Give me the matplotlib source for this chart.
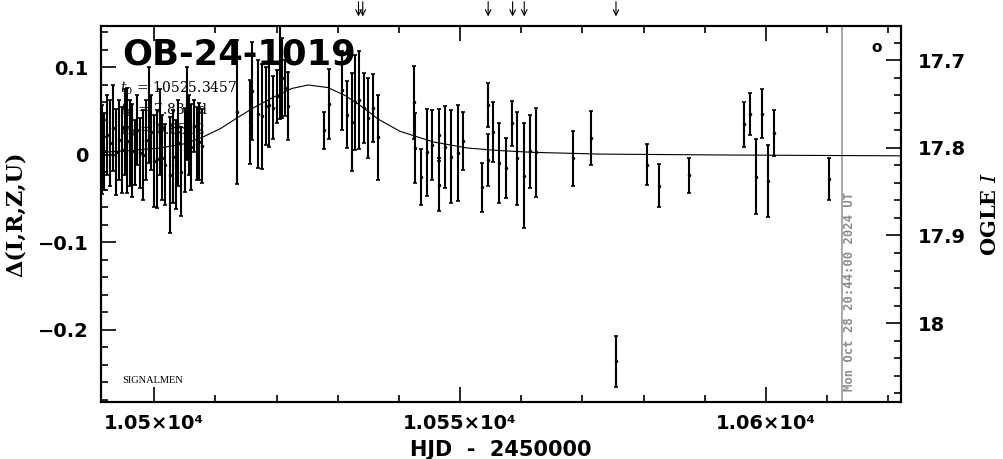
import matplotlib
matplotlib.use("Agg")
import matplotlib.pyplot as plt
from matplotlib.ticker import MultipleLocator, FuncFormatter

# ---- data ----
# OGLE points: HJD-2450000, delta flux, error
t_obs = [10491.5, 10491.8, 10492.3, 10492.8, 10493.3, 10493.8, 10494.3, 10494.8,
         10495.3, 10495.6, 10496.1, 10496.4, 10496.9, 10497.2, 10497.7, 10498.2,
         10498.7, 10499.2, 10499.5, 10500.0, 10500.5, 10501.0, 10501.3, 10501.8,
         10502.5, 10503.1, 10503.6, 10503.9, 10504.4, 10505.1, 10505.4, 10505.7,
         10506.0, 10506.5, 10507.0, 10507.4, 10507.8,
         10513.6, 10515.6, 10516.0, 10516.9, 10517.7, 10518.3, 10518.8, 10519.5,
         10520.1, 10520.6, 10520.9, 10521.4, 10521.8,
         10527.7, 10528.6, 10530.7, 10531.6, 10532.4, 10532.8, 10533.5, 10534.3,
         10535.0, 10535.7, 10536.6,
         10542.4, 10542.6, 10543.7, 10544.6, 10545.5, 10546.5, 10546.6, 10547.5,
         10548.6, 10549.6, 10550.5, 10553.6, 10554.5, 10554.6, 10555.4, 10556.4,
         10557.5, 10558.5, 10559.3, 10560.5, 10561.4, 10562.4,
         10568.5, 10571.4, 10575.5, 10580.5, 10582.5, 10587.5, 10596.5, 10597.4,
         10598.4, 10599.4, 10600.4, 10601.3, 10610.3]
d_obs = [0.006, 0.004, 0.023, 0.014, 0.031, 0.003, 0.017, 0.006,
         0.026, 0.016, 0.014, 0.005, 0.003, 0.029, 0.002, 0.000,
         0.017, 0.046, 0.026, -0.007, -0.005, 0.026, -0.003, -0.011,
         -0.023, -0.002, -0.011, 0.014, -0.019, 0.006, 0.047, 0.023,
         0.009, 0.033, 0.013, 0.015, 0.010,
         0.049, 0.038, 0.073, 0.047, 0.044, 0.056, 0.057, 0.054,
         0.067, 0.094, 0.088, 0.076, 0.056,
         0.028, 0.058, 0.074, 0.046, 0.038, 0.060, 0.063, 0.054,
         0.042, 0.054, 0.020,
         0.060, 0.008, -0.025, 0.003, 0.011, 0.023, -0.034, 0.009,
         -0.002, 0.002, 0.016, -0.037, 0.057, -0.006, 0.026, -0.009,
         -0.015, 0.036, -0.004, -0.024, 0.004, 0.003,
         -0.004, 0.019, -0.236, -0.011, -0.035, -0.023, 0.035, 0.047,
         -0.025, 0.047, -0.030, 0.025, -0.028]
e_obs = [0.051, 0.044, 0.046, 0.049, 0.049, 0.049, 0.046, 0.049,
         0.049, 0.060, 0.049, 0.053, 0.037, 0.040, 0.040, 0.051,
         0.046, 0.055, 0.043, 0.053, 0.056, 0.049, 0.049, 0.046,
         0.066, 0.053, 0.051, 0.049, 0.051, 0.048, 0.053, 0.046,
         0.049, 0.030, 0.042, 0.044, 0.042,
         0.082, 0.048, 0.056, 0.062, 0.060, 0.045, 0.048, 0.036,
         0.030, 0.053, 0.046, 0.032, 0.039,
         0.021, 0.040, 0.045, 0.038, 0.056, 0.054, 0.056, 0.040,
         0.046, 0.039, 0.049,
         0.042, 0.040, 0.032, 0.050, 0.040, 0.030, 0.030, 0.047,
         0.053, 0.055, 0.033, 0.028, 0.025, 0.030, 0.034, 0.046,
         0.034, 0.026, 0.053, 0.060, 0.042, 0.051,
         0.031, 0.031, 0.029, 0.023, 0.025, 0.020, 0.026, 0.024,
         0.043, 0.028, 0.041, 0.026, 0.024]

# model curve
t_model = [10491.3, 10496.1, 10501.0, 10505.1, 10507.8, 10510.8, 10513.7, 10516.5,
           10519.8, 10522.5, 10525.2, 10528.4, 10531.2, 10534.0, 10536.6, 10540.2,
           10545.6, 10551.1, 10556.5, 10561.9, 10572.9, 10592.5, 10622.1]
d_model = [0.003, 0.005, 0.008, 0.013, 0.020, 0.030, 0.043, 0.055,
           0.067, 0.076, 0.080, 0.077, 0.068, 0.055, 0.041, 0.027,
           0.015, 0.008, 0.005, 0.003, 0.001, 0.000, -0.001]

# arrows on top of the frame
arrow_t = [10533.4, 10534.1, 10554.6, 10558.6, 10560.5, 10575.5]

now_t = 10612.4
now_label = "Mon Oct 28 20:44:00 2024 UT"
event_name = "OB-24-1019"
par_lines = [r"$t_0$ = 10525.3457", r"$t_{\rm E}$ = 7.831 d", r"$u_0$ = 0.8512"]

plt.rcParams['mathtext.fontset'] = 'dejavuserif'
tick_font = dict(family='DejaVu Sans', weight='bold', size=14)

fig = plt.figure(figsize=(10.04, 4.59), dpi=100)
ax = fig.add_axes([0.1006, 0.1242, 0.7968, 0.8192])

ax.errorbar(t_obs, d_obs, yerr=e_obs, fmt='.', ms=3, color='k', ecolor='k',
            elinewidth=1.5, capsize=1.6, capthick=1.2, zorder=3)
ax.plot(t_model, d_model, color='k', lw=0.8, zorder=2)

ax.set_xlim(10491.3, 10622.1)
ax.set_ylim(-0.2823, 0.1474)

# now line + time stamp
ax.axvline(now_t, color='#999999', lw=1.2, zorder=1)
ax.text(now_t + 0.3, 0.03, now_label, transform=ax.get_xaxis_transform(),
        rotation=90, ha='left', va='bottom', color='#8c8c8c',
        family='DejaVu Sans Mono', weight='bold', fontsize=8.8)

# labels inside the frame
ax.text(0.026, 0.923, event_name, transform=ax.transAxes, fontsize=25.5,
        weight='bold', family='DejaVu Sans', va='center', zorder=1)
for i, s in enumerate(par_lines):
    ax.text(0.024, [0.835, 0.777, 0.723][i], s, transform=ax.transAxes,
            fontsize=10, family='DejaVu Serif', va='center', zorder=1)
ax.text(0.026, 0.056, "SIGNALMEN", transform=ax.transAxes, fontsize=7.5,
        family='Liberation Serif', va='center')
ax.text(0.970, 0.9415, "o", transform=ax.transAxes, fontsize=11,
        weight='bold', ha='center', va='center')

for t in arrow_t:
    ax.annotate('', xy=(t, 1.018), xytext=(t, 1.072),
                xycoords=ax.get_xaxis_transform(),
                arrowprops=dict(arrowstyle='->', lw=0.8, color='k'),
                annotation_clip=False)

# ticks
ax.xaxis.set_major_locator(MultipleLocator(50))
ax.xaxis.set_minor_locator(MultipleLocator(10))
ax.yaxis.set_major_locator(MultipleLocator(0.1))
ax.yaxis.set_minor_locator(MultipleLocator(0.02))
ax.xaxis.set_major_formatter(FuncFormatter(lambda v, p: f"{v/1e4:g}×10⁴"))
ax.yaxis.set_major_formatter(FuncFormatter(
    lambda v, p: '0' if abs(v) < 1e-9 else f"{v:g}".replace('-', '−')))
ax.tick_params(which='both', direction='in', top=True, right=False, width=1.2)
ax.tick_params(which='major', length=11, pad=9)
ax.tick_params(which='minor', length=5)
for lab in ax.get_xticklabels() + ax.get_yticklabels():
    lab.set(**tick_font)

ax2 = ax.twinx()
ax2.set_ylim(18.090, 17.661)
ax2.yaxis.set_major_locator(MultipleLocator(0.1))
ax2.yaxis.set_minor_locator(MultipleLocator(0.02))
ax2.yaxis.set_major_formatter(FuncFormatter(lambda v, p: f"{v:g}"))
ax2.tick_params(which='both', direction='in', width=1.2)
ax2.tick_params(which='major', length=11, pad=12)
ax2.tick_params(which='minor', length=5)
for lab in ax2.get_yticklabels():
    lab.set(**tick_font)

for a in (ax, ax2):
    for sp in a.spines.values():
        sp.set_linewidth(1.5)

ax.set_xlabel("HJD  -  2450000", family='DejaVu Sans', weight='bold',
              fontsize=15, labelpad=5)
ax.set_ylabel("Δ(I,R,Z,U)", family='DejaVu Serif', weight='bold',
              fontsize=16, labelpad=8)
ax2.set_ylabel("OGLE $I$", family='DejaVu Serif', weight='bold',
               fontsize=15, labelpad=10)

fig.savefig("out.png", dpi=100)
